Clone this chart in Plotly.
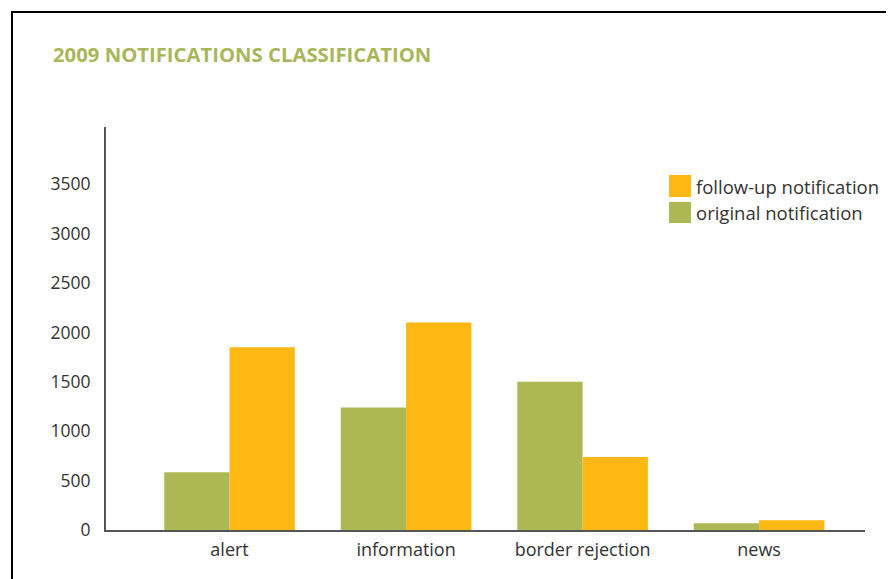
import plotly.graph_objects as go

categories = ["alert", "information", "border rejection", "news"]
original = [585, 1240, 1500, 68]
follow_up = [1850, 2100, 740, 98]
y_ticks = [0, 500, 1000, 1500, 2000, 2500, 3000, 3500]
legend_labels = ["follow-up notification", "original notification"]

GREEN = "#adb855"
ORANGE = "#fdb813"
TEXT = "#333333"

fig = go.Figure()
fig.add_trace(go.Bar(x=categories, y=original, name=legend_labels[1],
                     marker=dict(color=GREEN, line=dict(width=0))))
fig.add_trace(go.Bar(x=categories, y=follow_up, name=legend_labels[0],
                     marker=dict(color=ORANGE, line=dict(width=0))))

# page has an 8px body margin: figure occupies (8,8)-(894,579)
OFF = 8
W, H = 894 - OFF, 579 - OFF
PL, PR, PT, PB = 106, 865, 127, 530  # plot area in page pixels
L, R, T, B = PL - OFF, 894 - PR, PT - OFF, 579 - PB
pw, ph = PR - PL, PB - PT

def px(X):
    return (X - PL) / pw

def py(Y):
    return (PB - Y) / ph

shapes = [dict(type="rect", xref="paper", yref="paper",
               x0=px(12), x1=px(905), y0=py(590), y1=py(12),
               line=dict(color="black", width=2), fillcolor="rgba(0,0,0,0)", layer="below")]
annotations = []
swatch_rows = [(175, 197, ORANGE), (202, 223, GREEN)]
for (y0, y1, col), lab in zip(swatch_rows, legend_labels):
    shapes.append(dict(type="rect", xref="paper", yref="paper",
                       x0=px(669), x1=px(691), y0=py(y1), y1=py(y0),
                       line=dict(width=0), fillcolor=col))
    annotations.append(dict(text=lab, xref="paper", yref="paper", x=px(694), y=py((y0 + y1) / 2),
                            xanchor="left", yanchor="middle", showarrow=False,
                            font=dict(size=18.5, color=TEXT)))

fig.update_layout(
    width=W, height=H,
    margin=dict(l=L, r=R, t=T, b=B),
    paper_bgcolor="white", plot_bgcolor="white",
    barmode="group", bargap=0.26, bargroupgap=0,
    showlegend=False,
    font=dict(family="Open Sans, DejaVu Sans, sans-serif", color=TEXT, size=17),
    title=dict(text="<b>2009 NOTIFICATIONS CLASSIFICATION</b>", x=(53 - OFF) / W, xanchor="left",
               y=1 - (55 - OFF) / H, yanchor="middle",
               font=dict(family="Open Sans, DejaVu Sans", size=20.3, color="#a9b65a")),
    xaxis=dict(range=[-0.70, 3.6], showline=True, linecolor="#555555", linewidth=2,
               ticks="", showgrid=False, zeroline=False, tickfont=dict(size=18),
               ticklabelstandoff=2, fixedrange=True),
    yaxis=dict(range=[0, 4080], tickvals=y_ticks, showline=True, linecolor="#555555",
               linewidth=2, ticks="", showgrid=False, zeroline=False,
               ticklabelstandoff=10, tickfont=dict(size=17.5)),
    shapes=shapes,
    annotations=annotations,
)

fig.write_html("out.html")
